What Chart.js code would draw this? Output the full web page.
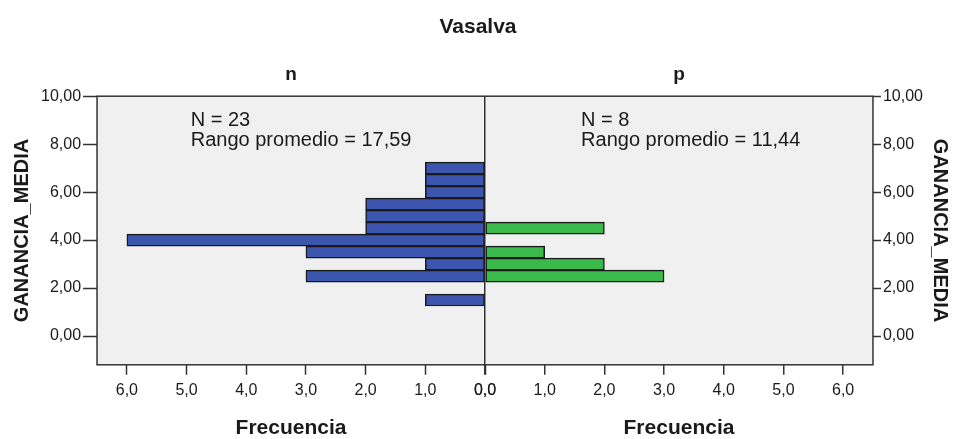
<!DOCTYPE html>
<html><head><meta charset="utf-8">
<script src="https://cdn.jsdelivr.net/npm/chart.js@4/dist/chart.umd.min.js"></script>
<style>html,body{margin:0;padding:0;background:#fff;} #wrap{width:954px;height:439px;position:relative;}</style>
</head><body><div id="wrap"><canvas id="c" width="954" height="439"></canvas></div>
<script>
const chartTitle = 'Vasalva';
const groupNames = ['n', 'p'];
const binCenters = [1.5, 2.0, 2.5, 3.0, 3.5, 4.0, 4.5, 5.0, 5.5, 6.0, 6.5, 7.0];
const nCounts = [1, 0, 3, 1, 3, 6, 2, 2, 2, 1, 1, 1];
const pCounts = [0, 0, 3, 2, 1, 0, 2, 0, 0, 0, 0, 0];
const groupN = [23, 8];
const meanRanks = ['17,59', '11,44'];
const yTicks = [0, 2, 4, 6, 8, 10];
const xTicks = [0, 1, 2, 3, 4, 5, 6];
const yLabel = 'GANANCIA_MEDIA';
const xLabel = 'Frecuencia';

const FF = "'Liberation Sans', Arial, sans-serif";
const INK = '#1a1a1a';
const LINE = '#333333';

const fmtY = v => Number(v).toFixed(2).replace('.', ',');
const fmtX = v => Number(v).toFixed(1).replace('.', ',');

function yScale(pos, tickLen, tPad) {
  return {
    type: 'linear', position: pos, min: -1.2, max: 10, offset: false,
    afterBuildTicks: s => { s.ticks = yTicks.map(v => ({ value: v })); },
    ticks: { font: { family: FF, size: 16 }, color: INK, padding: 2, callback: fmtY },
    grid: { offset: false, drawOnChartArea: false, tickLength: tickLen, tickColor: LINE, tickWidth: 1.5 },
    border: { display: false },
    title: { display: true, text: yLabel, color: INK, font: { family: FF, size: 20, weight: 'bold' }, padding: tPad }
  };
}
function xScale(rev, centerLine) {
  return {
    type: 'linear', position: 'bottom', stack: 'freq', reverse: rev, min: 0, max: 6.5, offset: false,
    afterBuildTicks: s => { s.ticks = xTicks.map(v => ({ value: v })); },
    ticks: { font: { family: FF, size: 16 }, color: INK, padding: 6, maxRotation: 0, autoSkip: false, callback: fmtX },
    grid: centerLine ? {
      offset: false, drawOnChartArea: true, tickLength: 10, tickColor: LINE, tickWidth: 1.5,
      color: c => (c.tick && c.tick.value === 0) ? LINE : 'rgba(0,0,0,0)', lineWidth: 1.5
    } : { offset: false, drawOnChartArea: false, tickLength: 10, tickColor: LINE, tickWidth: 1.5 },
    border: { display: false },
    title: { display: true, text: xLabel, color: INK, font: { family: FF, size: 21, weight: 'bold', lineHeight: 1 }, padding: { top: 12, bottom: 0 } }
  };
}

const deco = {
  id: 'deco',
  beforeDraw(chart) {
    const { ctx, chartArea: a } = chart;
    ctx.save();
    ctx.fillStyle = '#F0F0F0';
    ctx.fillRect(a.left, a.top, a.width, a.height);
    ctx.restore();
  },
  afterDatasetsDraw(chart) {
    const { ctx, chartArea: a, scales } = chart;
    ctx.save();
    ctx.strokeStyle = LINE; ctx.lineWidth = 1.5;
    ctx.strokeRect(a.left, a.top, a.width, a.height);
    const sc = [scales.xl, scales.xr];
    const annX = [4.93, 1.61];
    ctx.fillStyle = INK;
    sc.forEach((s, i) => {
      ctx.font = "bold 19px " + FF;
      ctx.textAlign = 'center'; ctx.textBaseline = 'middle';
      ctx.fillText(groupNames[i], (s.left + s.right) / 2, a.top - 21);
      ctx.font = "20px " + FF;
      ctx.textAlign = 'left';
      const x = s.getPixelForValue(annX[i]);
      const y = scales.y.getPixelForValue(9.0);
      ctx.fillText('N = ' + groupN[i], x, y);
      ctx.fillText('Rango promedio = ' + meanRanks[i], x, y + 20);
    });
    ctx.restore();
  }
};

new Chart(document.getElementById('c'), {
  type: 'bar',
  data: {
    datasets: [
      { label: groupNames[0], data: binCenters.map((c, i) => ({ y: c, x: nCounts[i] })), xAxisID: 'xl', yAxisID: 'y',
        backgroundColor: '#3C55AE', borderColor: '#1a1a1a', borderWidth: 1.5, borderSkipped: false, grouped: false,
        barPercentage: 1, categoryPercentage: 1 },
      { label: groupNames[1], data: binCenters.map((c, i) => ({ y: c, x: pCounts[i] })), xAxisID: 'xr', yAxisID: 'y',
        backgroundColor: '#3BBA4C', borderColor: '#1a1a1a', borderWidth: 1.5, borderSkipped: false, grouped: false,
        barPercentage: 1, categoryPercentage: 1 }
    ]
  },
  options: {
    indexAxis: 'y',
    responsive: false,
    animation: false,
    layout: { padding: { left: 2, right: 0, top: 0, bottom: 0 } },
    plugins: {
      legend: { display: false },
      tooltip: { enabled: false },
      title: { display: true, text: chartTitle, color: INK, font: { family: FF, size: 21, weight: 'bold' }, padding: { top: 15, bottom: 56 } }
    },
    scales: {
      y: yScale('left', 14, { top: 8, bottom: 5 }),
      y2: yScale('right', 8, { top: 2, bottom: 3 }),
      xl: xScale(true, false),
      xr: xScale(false, true)
    }
  },
  plugins: [deco]
});
</script>
</body></html>
